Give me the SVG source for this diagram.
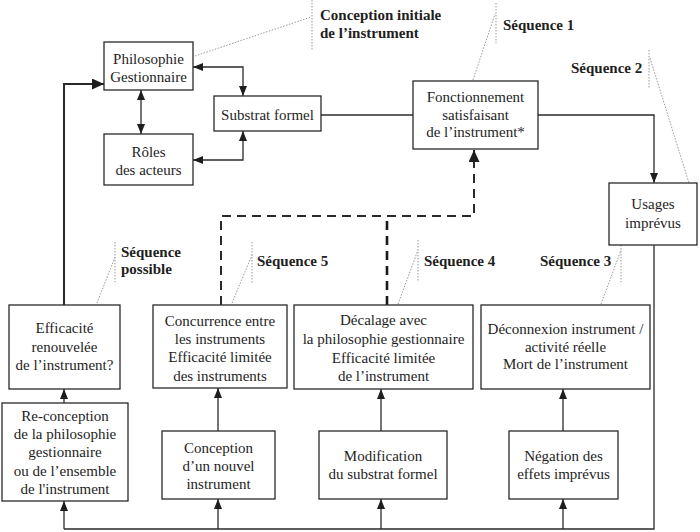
<svg xmlns="http://www.w3.org/2000/svg" width="700" height="532" viewBox="0 0 700 532">
<style>
.box{fill:#fff;stroke:#2a2a2a;stroke-width:1.3}
.t{font-family:"Liberation Serif","Times New Roman",serif;font-size:15px;fill:#1e1e1e;text-anchor:middle}
.lb{font-family:"Liberation Serif","Times New Roman",serif;font-size:15px;font-weight:bold;fill:#1e1e1e}
.c{fill:none;stroke:#2a2a2a;stroke-width:1.3}
.thick{stroke-width:2}
.dash{fill:none;stroke:#2a2a2a;stroke-width:2;stroke-dasharray:9 6}
.dash2{fill:none;stroke:#1a1a1a;stroke-width:2.6;stroke-dasharray:9 6}
.lead{fill:none;stroke:#9a9a9a;stroke-width:1;stroke-dasharray:1.5 1.5}
</style>
<defs>
<marker id="a" markerUnits="userSpaceOnUse" markerWidth="10" markerHeight="8" refX="10" refY="4" orient="auto-start-reverse"><path d="M0,0 L10,4 L0,8 z" fill="#1e1e1e"/></marker>
<marker id="ab" markerUnits="userSpaceOnUse" markerWidth="12" markerHeight="11" refX="12" refY="5.5" orient="auto"><path d="M0,0 L12,5.5 L0,11 z" fill="#1e1e1e"/></marker>
</defs>
<g id="connectors">
<path class="c" d="M193,67 H243 V96" marker-start="url(#a)" marker-end="url(#a)"/>
<path class="c" d="M141,90 V134" marker-start="url(#a)" marker-end="url(#a)"/>
<path class="c" d="M193,160 H243 V131" marker-start="url(#a)" marker-end="url(#a)"/>
<path class="c" d="M321,115 H413"/>
<path class="c" d="M538,115 H654 V183" marker-end="url(#a)"/>
<path class="c" d="M654,245 V529 H64"/>
<path class="c" d="M64,529 V501" marker-end="url(#a)"/>
<path class="c" d="M218,529 V499" marker-end="url(#a)"/>
<path class="c" d="M381,529 V499" marker-end="url(#a)"/>
<path class="c" d="M563,529 V499" marker-end="url(#a)"/>
<path class="c" d="M64,403 V389" marker-end="url(#a)"/>
<path class="c" d="M218,431 V388" marker-end="url(#a)"/>
<path class="c" d="M381,431 V389" marker-end="url(#a)"/>
<path class="c" d="M563,431 V389" marker-end="url(#a)"/>
<path class="c thick" d="M64,305 V84 H104" marker-end="url(#ab)"/>
<path class="dash" d="M221,305 V216 H474 V150" marker-end="url(#ab)"/>
<path class="dash2" d="M387,305 V216"/>
</g>
<g id="leaders">
<path class="lead" d="M312,0 V50 M195,56 L311,17"/>
<path class="lead" d="M496,3 V43 M473,80 L495,14"/>
<path class="lead" d="M649,50 V88 M650,58 L689,183"/>
<path class="lead" d="M115,242 V282 M97,303 L115,257"/>
<path class="lead" d="M252,242 V283 M232,303 L252,255"/>
<path class="lead" d="M418,240 V282 M398,304 L418,250"/>
<path class="lead" d="M621,245 V282 M601,304 L621,250"/>
</g>
<g id="labels">
<text class="lb" x="320" y="20">Conception initiale</text>
<text class="lb" x="320" y="38">de l’instrument</text>
<text class="lb" x="503" y="30">Séquence 1</text>
<text class="lb" x="571" y="73">Séquence 2</text>
<text class="lb" x="121" y="257">Séquence</text>
<text class="lb" x="121" y="274">possible</text>
<text class="lb" x="257" y="266">Séquence 5</text>
<text class="lb" x="424" y="266">Séquence 4</text>
<text class="lb" x="540" y="266">Séquence 3</text>
</g>
<g id="philosophie">
<rect class="box" x="104" y="42" width="89" height="48"/>
<text class="t" x="148.5" y="64">Philosophie</text>
<text class="t" x="148.5" y="82">Gestionnaire</text>
</g>
<g id="roles">
<rect class="box" x="104" y="134" width="89" height="51"/>
<text class="t" x="148.5" y="157">Rôles</text>
<text class="t" x="148.5" y="175">des acteurs</text>
</g>
<g id="substrat">
<rect class="box" x="214" y="96" width="107" height="35"/>
<text class="t" x="267.5" y="120">Substrat formel</text>
</g>
<g id="fonctionnement">
<rect class="box" x="413" y="81" width="125" height="68"/>
<text class="t" x="475.5" y="102">Fonctionnement</text>
<text class="t" x="475.5" y="120">satisfaisant</text>
<text class="t" x="475.5" y="137">de l’instrument*</text>
</g>
<g id="usages">
<rect class="box" x="609" y="183" width="88" height="62"/>
<text class="t" x="653" y="209">Usages</text>
<text class="t" x="653" y="228">imprévus</text>
</g>
<g id="efficacite">
<rect class="box" x="9" y="305" width="111" height="84"/>
<text class="t" x="64.5" y="333">Efficacité</text>
<text class="t" x="64.5" y="352">renouvelée</text>
<text class="t" x="64.5" y="370">de l’instrument?</text>
</g>
<g id="concurrence">
<rect class="box" x="153" y="305" width="134" height="83"/>
<text class="t" x="220" y="326">Concurrence entre</text>
<text class="t" x="220" y="344">les instruments</text>
<text class="t" x="220" y="362">Efficacité limitée</text>
<text class="t" x="220" y="381">des instruments</text>
</g>
<g id="decalage">
<rect class="box" x="294" y="305" width="179" height="84"/>
<text class="t" x="383.5" y="325">Décalage avec</text>
<text class="t" x="383.5" y="344">la philosophie gestionnaire</text>
<text class="t" x="383.5" y="363">Efficacité limitée</text>
<text class="t" x="383.5" y="381">de l’instrument</text>
</g>
<g id="deconnexion">
<rect class="box" x="481" y="305" width="169" height="84"/>
<text class="t" x="565.5" y="334">Déconnexion instrument /</text>
<text class="t" x="565.5" y="352">activité réelle</text>
<text class="t" x="565.5" y="369">Mort de l’instrument</text>
</g>
<g id="reconception">
<rect class="box" x="2" y="403" width="126" height="98"/>
<text class="t" x="65" y="421">Re-conception</text>
<text class="t" x="65" y="439">de la philosophie</text>
<text class="t" x="65" y="457">gestionnaire</text>
<text class="t" x="65" y="476">ou de l’ensemble</text>
<text class="t" x="65" y="494">de l'instrument</text>
</g>
<g id="conception">
<rect class="box" x="162" y="431" width="113" height="68"/>
<text class="t" x="218.5" y="453">Conception</text>
<text class="t" x="218.5" y="471">d’un nouvel</text>
<text class="t" x="218.5" y="489">instrument</text>
</g>
<g id="modification">
<rect class="box" x="319" y="431" width="128" height="68"/>
<text class="t" x="383" y="461">Modification</text>
<text class="t" x="383" y="479">du substrat formel</text>
</g>
<g id="negation">
<rect class="box" x="509" y="431" width="109" height="68"/>
<text class="t" x="563.5" y="461">Négation des</text>
<text class="t" x="563.5" y="479">effets imprévus</text>
</g>
</svg>
